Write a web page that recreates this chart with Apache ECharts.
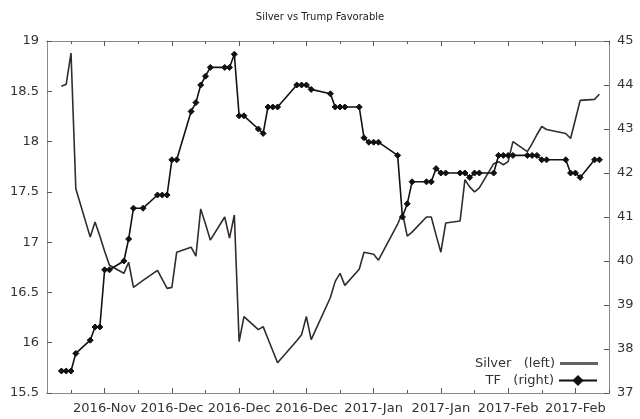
<!DOCTYPE html>
<html>
<head>
<meta charset="utf-8">
<script src="https://cdn.jsdelivr.net/npm/echarts@6/dist/echarts.min.js"></script>
<style>
html,body{margin:0;padding:0;background:#fff;}
#main{width:640px;height:419px;}
</style>
</head>
<body>
<div id="main"></div>
<script>
// trading days (weekends / holidays skipped)
var dates = [
 '2016-11-08','2016-11-09','2016-11-10','2016-11-11','2016-11-14','2016-11-15','2016-11-16','2016-11-17','2016-11-18',
 '2016-11-21','2016-11-22','2016-11-23','2016-11-25','2016-11-28','2016-11-29','2016-11-30',
 '2016-12-01','2016-12-02','2016-12-05','2016-12-06','2016-12-07','2016-12-08','2016-12-09','2016-12-12','2016-12-13',
 '2016-12-14','2016-12-15','2016-12-16','2016-12-19','2016-12-20','2016-12-21','2016-12-22','2016-12-23','2016-12-27',
 '2016-12-28','2016-12-29','2016-12-30',
 '2017-01-03','2017-01-04','2017-01-05','2017-01-06','2017-01-09','2017-01-10','2017-01-11','2017-01-12','2017-01-13',
 '2017-01-17','2017-01-18','2017-01-19','2017-01-20','2017-01-23','2017-01-24','2017-01-25','2017-01-26','2017-01-27',
 '2017-01-30','2017-01-31',
 '2017-02-01','2017-02-02','2017-02-03','2017-02-06','2017-02-07','2017-02-08','2017-02-09','2017-02-10','2017-02-13',
 '2017-02-14','2017-02-15','2017-02-16','2017-02-17','2017-02-21','2017-02-22','2017-02-23','2017-02-24','2017-02-27',
 '2017-02-28'
];
var silver = [
 18.55,18.57,18.88,17.53,17.05,17.20,17.06,16.91,16.77,
 16.69,16.80,16.55,16.62,16.72,16.63,16.54,
 16.55,16.90,16.95,16.86,17.33,17.18,17.02,17.25,17.04,
 17.27,16.01,16.26,16.13,16.16,16.04,15.92,15.80,16.02,
 16.08,16.26,16.03,
 16.45,16.61,16.69,16.57,16.73,16.90,16.89,16.88,16.82,
 17.18,17.29,17.06,17.10,17.25,17.25,17.07,16.90,17.19,
 17.21,17.62,
 17.55,17.50,17.54,17.78,17.80,17.77,17.80,18.00,17.90,
 17.98,18.07,18.15,18.12,18.08,18.03,18.22,18.41,18.42,
 18.47
];
var tf = [
 37.5,37.5,37.5,37.9,38.2,38.5,38.5,39.8,39.8,
 40.0,40.5,41.2,41.2,41.5,41.5,41.5,
 42.3,42.3,43.4,43.6,44.0,44.2,44.4,44.4,44.4,
 44.7,43.3,43.3,43.0,42.9,43.5,43.5,43.5,44.0,
 44.0,44.0,43.9,
 43.8,43.5,43.5,43.5,43.5,42.8,42.7,42.7,42.7,
 42.4,41.0,41.3,41.8,41.8,41.8,42.1,42.0,42.0,
 42.0,42.0,
 41.9,42.0,42.0,42.0,42.4,42.4,42.4,42.4,42.4,
 42.4,42.4,42.3,42.3,42.3,42.0,42.0,41.9,42.3,
 42.3
];
var firstDay = '2016-11-05';   // left edge of the time axis
var lastDay = '2017-03-02';    // right edge
var labelDates = ['2016-11-17','2016-12-01','2016-12-15','2016-12-29','2017-01-12','2017-01-26','2017-02-09','2017-02-23'];
var monthNames = ['Jan','Feb','Mar','Apr','May','Jun','Jul','Aug','Sep','Oct','Nov','Dec'];

// every calendar day is one category
var days = [];
var t0 = Date.parse(firstDay + 'T00:00:00Z');
var t1 = Date.parse(lastDay + 'T00:00:00Z');
for (var t = t0; t <= t1; t += 86400000) {
    days.push(new Date(t).toISOString().slice(0, 10));
}
var pos = {};
for (var i = 0; i < days.length; i++) pos[days[i]] = i;

var silverData = days.map(function(){ return null; });
var tfData = days.map(function(){ return null; });
for (var j = 0; j < dates.length; j++) {
    silverData[pos[dates[j]]] = silver[j];
    tfData[pos[dates[j]]] = tf[j];
}

var major = {}, minor = {};
labelDates.forEach(function(d){
    major[pos[d]] = true;
    minor[pos[d] - 7] = true;
});
minor[pos[labelDates[labelDates.length - 1]] + 7] = true;

function fmtLabel(v){
    return v.slice(0, 4) + '-' + monthNames[parseInt(v.slice(5, 7), 10) - 1];
}

var axisCol = '#8a8a8a';
var txtCol = '#333';
var font = 'DejaVu Sans';

function xAx(pos2, isMajor, showLabel){
    return {
        type: 'category',
        position: pos2,
        data: days,
        boundaryGap: false,
        axisLine: {show: true, lineStyle: {color: axisCol, width: 1}},
        axisTick: {
            show: true, inside: true, length: isMajor ? 5 : 3,
            lineStyle: {color: '#555', width: 1},
            interval: function(idx){ return isMajor ? !!major[idx] : !!minor[idx]; }
        },
        axisLabel: {
            show: showLabel, margin: 9, color: txtCol, fontFamily: font, fontSize: 13,
            interval: function(idx){ return !!major[idx]; },
            formatter: fmtLabel
        },
        splitLine: {show: false}
    };
}

var myChart = echarts.init(document.getElementById('main'), null, {renderer: 'canvas'});
var option = {
    animation: false,
    backgroundColor: '#fff',
    title: {
        text: 'Silver vs Trump Favorable',
        left: 'center', top: 7,
        textStyle: {fontFamily: font, fontSize: 10, fontWeight: 'normal', color: '#222'}
    },
    grid: {left: 47, right: 31, top: 41, bottom: 26, containLabel: false},
    legend: [
        {
            data: [{name: 'Silver   (left)', icon: 'rect'}], right: 42, top: 357, padding: 0, align: 'right',
            itemWidth: 38, itemHeight: 3,
            textStyle: {fontFamily: font, fontSize: 13, color: txtCol}
        },
        {
            data: ['TF   (right)'], right: 42, top: 374, padding: 0, align: 'right',
            itemWidth: 38, itemHeight: 14,
            textStyle: {fontFamily: font, fontSize: 13, color: txtCol}
        }
    ],
    xAxis: [
        xAx('bottom', true, true),
        xAx('bottom', false, false),
        xAx('top', true, false),
        xAx('top', false, false)
    ],
    yAxis: [
        {
            type: 'value', position: 'left', min: 15.5, max: 19, interval: 0.5,
            axisLine: {show: true, lineStyle: {color: axisCol}},
            axisTick: {show: true, inside: true, length: 5, lineStyle: {color: '#555'}},
            axisLabel: {margin: 8, color: txtCol, fontFamily: font, fontSize: 13},
            splitLine: {show: false}
        },
        {
            type: 'value', position: 'right', min: 37, max: 45, interval: 1,
            axisLine: {show: true, lineStyle: {color: axisCol}},
            axisTick: {show: true, inside: true, length: 5, lineStyle: {color: '#555'}},
            axisLabel: {margin: 8, color: txtCol, fontFamily: font, fontSize: 13},
            splitLine: {show: false}
        }
    ],
    series: [
        {
            name: 'Silver   (left)',
            type: 'line',
            xAxisIndex: 0, yAxisIndex: 0,
            data: silverData,
            connectNulls: true,
            symbol: 'none',
            lineStyle: {color: '#332b2b', width: 1.6},
            itemStyle: {color: '#6a6262'}
        },
        {
            name: 'TF   (right)',
            type: 'line',
            xAxisIndex: 0, yAxisIndex: 1,
            data: tfData,
            connectNulls: true,
            symbol: 'diamond',
            symbolSize: 6,
            showSymbol: true,
            showAllSymbol: true,
            lineStyle: {color: '#111', width: 1.6},
            itemStyle: {color: '#111', borderColor: '#111'}
        }
    ]
};
myChart.setOption(option);
</script>
</body>
</html>
